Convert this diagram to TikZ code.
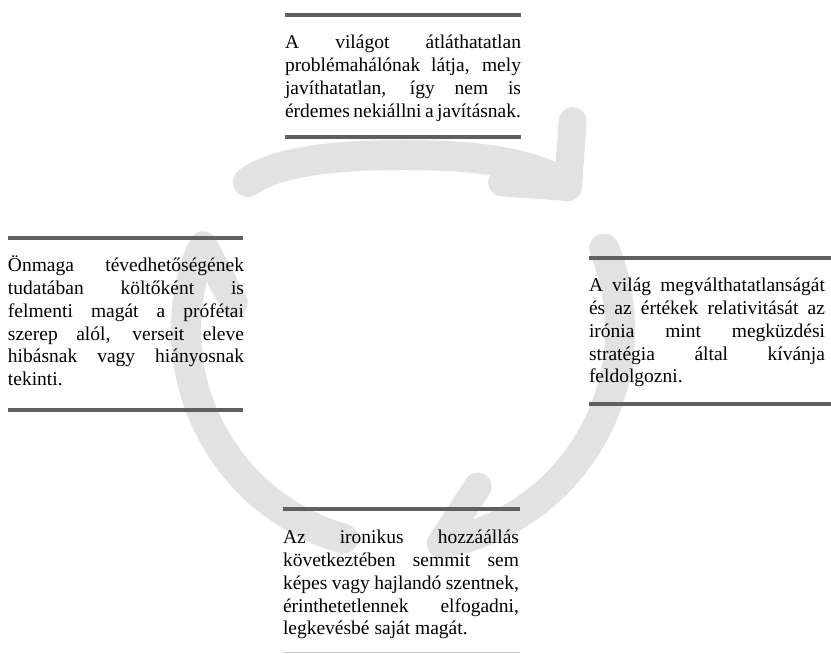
\documentclass[tikz,border=0pt]{standalone}
\usepackage{fontspec}
\setmainfont{Liberation Serif}
\usetikzlibrary{calc}
\definecolor{ringgray}{RGB}{226,226,226}
\definecolor{rulegray}{RGB}{96,96,96}
\definecolor{faintgray}{RGB}{205,205,205}
\newlength{\colw}
\setlength{\colw}{236pt}
\newcommand{\jl}[1]{\hbox to \colw{#1}}
\newcommand{\lastl}[1]{\hbox{#1}}
\newcommand{\txtblock}[1]{\parbox[t]{\colw}{\fontsize{19.5}{22.7}\selectfont #1}}
\tikzset{
  ringarc/.style={draw=ringgray, line width=30pt, line cap=round},
  headarm/.style={draw=ringgray, line width=28pt, line cap=round, line join=round},
  boxrule/.style={draw=rulegray, line width=4pt},
  faintrule/.style={draw=faintgray, line width=1.5pt},
  txt/.style={inner sep=0pt, outer sep=0pt, anchor=base west}
}
\begin{document}
\begin{tikzpicture}[x=1pt,y=1pt]
\useasboundingbox (0,0) rectangle (831,654);
% ring
\coordinate (C) at (403,324);
\coordinate (T1) at (568,467);
\coordinate (A1s) at (248,472);
\coordinate (A1m) at (405,499);
\draw[ringarc] (A1s) .. controls (276,492) and (330,499) .. (A1m)
  .. controls (482,499) and (535,490) .. ([shift={(-4,3)}]T1);
\draw[ringarc] (C) ++(22:217) arc[start angle=22,end angle=-78,radius=217];
\draw[ringarc] (C) ++(254:217) arc[start angle=254,end angle=159,radius=217];
\coordinate (T2) at ($(C)+(-80:217)$);
\coordinate (T3) at ($(C)+(157:217)$);
\draw[headarm] (T1) ++(86:66) -- (T1) -- +(176:66);
\draw[headarm] (T2) -- +(57:68);
\draw[headarm] (T3) -- +(298:65);
% top box
\draw[boxrule] (285,639) -- (521,639);
\node[txt] (top) at (285,605) {\txtblock{%
\jl{A világot átláthatatlan}%
\jl{problémahálónak látja, mely}%
\jl{javíthatatlan, így nem is}%
\jl{érdemes nekiállni a javításnak.}}};
\draw[boxrule] (285,517) -- (521,517);
% left box
\draw[boxrule] (8,416) -- (243,416);
\node[txt] (left) at (8,382) {\txtblock{%
\jl{Önmaga tévedhetőségének}%
\jl{tudatában költőként is}%
\jl{felmenti magát a prófétai}%
\jl{szerep alól, verseit eleve}%
\jl{hibásnak vagy hiányosnak}%
\lastl{tekinti.}}};
\draw[boxrule] (8,244) -- (243,244);
% right box
\draw[boxrule] (589,396) -- (831,396);
\node[txt] (right) at (589,362) {\txtblock{%
\jl{A világ megválthatatlanságát}%
\jl{és az értékek relativitását az}%
\jl{irónia mint megküzdési}%
\jl{stratégia által kívánja}%
\lastl{feldolgozni.}}};
\draw[boxrule] (589,250) -- (831,250);
% bottom box
\draw[boxrule] (283,145) -- (520,145);
\node[txt] (bottom) at (283,110) {\txtblock{%
\jl{Az ironikus hozzáállás}%
\jl{következtében semmit sem}%
\jl{képes vagy hajlandó szentnek,}%
\jl{érinthetetlennek elfogadni,}%
\lastl{legkevésbé saját magát.}}};
\draw[faintrule] (283,1.5) -- (520,1.5);
\end{tikzpicture}
\end{document}
